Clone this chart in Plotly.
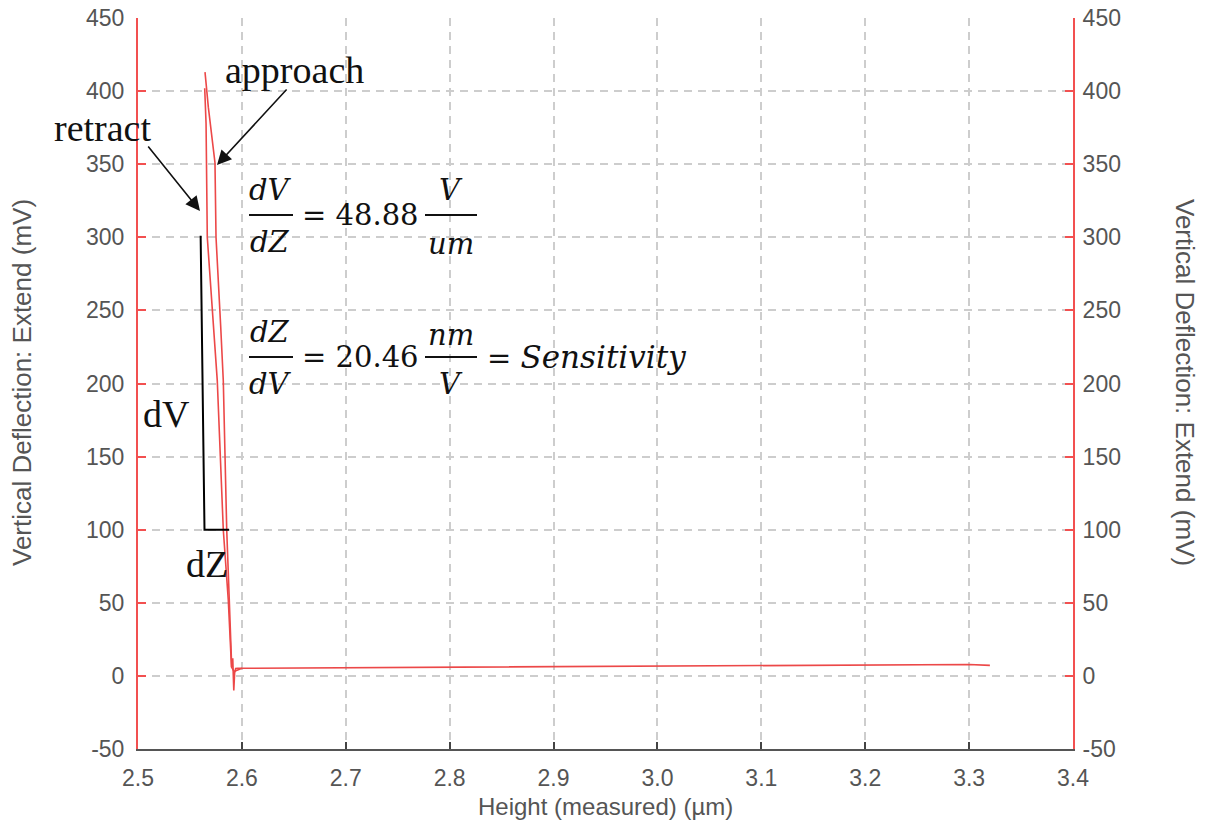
import plotly.graph_objects as go

# ---------------- data ----------------
approach_x = [2.5645, 2.5677, 2.5741, 2.5751, 2.5796, 2.5821, 2.5854, 2.5879, 2.5902,
              2.5912, 2.5922, 2.5930, 2.5940, 2.5960, 2.62, 2.65, 2.70, 2.75, 2.80,
              2.85, 2.90, 2.95, 3.00, 3.05, 3.10, 3.15, 3.20, 3.25, 3.30, 3.32]
approach_y = [413, 389, 351, 300, 239, 202, 100, 52, 6,
              12, -10, 2, 5, 5.2, 5.3, 5.5, 5.7, 5.9, 6.0,
              6.2, 6.4, 6.6, 6.8, 7.0, 7.2, 7.4, 7.6, 7.7, 7.8, 7.2]

retract_x = [2.5642, 2.5655, 2.5667, 2.5725, 2.5763, 2.5821, 2.5869, 2.5900, 2.5925, 2.6000]
retract_y = [402, 378, 300, 239, 202, 100, 52, 6, 3, 5.2]

slope_x = [2.5603, 2.5640, 2.5876]
slope_y = [301, 100, 100]

x_ticks = [2.5, 2.6, 2.7, 2.8, 2.9, 3.0, 3.1, 3.2, 3.3, 3.4]
x_tick_labels = ["2.5", "2.6", "2.7", "2.8", "2.9", "3.0", "3.1", "3.2", "3.3", "3.4"]
y_ticks = [-50, 0, 50, 100, 150, 200, 250, 300, 350, 400, 450]
y_tick_labels = ["-50", "0", "50", "100", "150", "200", "250", "300", "350", "400", "450"]

# ---------------- styling ----------------
RED = "rgb(236,72,72)"
AXRED = "rgb(242,80,80)"
GRID = "rgb(205,205,205)"
TICKC = "#555555"
SANS = "Liberation Sans, Arial, sans-serif"
SERIF = "Liberation Serif, Times New Roman, serif"
MATH = "DejaVu Serif, serif"

W, H = 1210, 827
# plot-area edges in screenshot pixels
L, R, T, B = 138, 1073, 18, 749


def px2x(px):
    return (px - L) / (R - L)


def py2y(py):
    return (B - py) / (B - T)


fig = go.Figure()
fig.add_trace(go.Scatter(x=retract_x, y=retract_y, mode="lines",
                         line=dict(color=RED, width=1.6), showlegend=False, hoverinfo="skip"))
fig.add_trace(go.Scatter(x=approach_x, y=approach_y, mode="lines",
                         line=dict(color=RED, width=1.6), showlegend=False, hoverinfo="skip"))
fig.add_trace(go.Scatter(x=slope_x, y=slope_y, mode="lines",
                         line=dict(color="black", width=2), showlegend=False, hoverinfo="skip"))
fig.add_trace(go.Scatter(x=[None], y=[None], yaxis="y2", showlegend=False, hoverinfo="skip"))

annotations = []
shapes = []


def txt(s, px, py, size, family=SERIF, color="#111111", xanchor="center", angle=0):
    annotations.append(dict(text=s, x=px2x(px), y=py2y(py), xref="paper", yref="paper",
                            xanchor=xanchor, yanchor="middle", showarrow=False,
                            textangle=angle, font=dict(size=size, family=family, color=color)))


def bar(x0, x1, py):
    shapes.append(dict(type="line", xref="paper", yref="paper",
                       x0=px2x(x0), x1=px2x(x1), y0=py2y(py), y1=py2y(py),
                       line=dict(color="#111111", width=2)))


def arrow(hx, hy, tx, ty):
    annotations.append(dict(text="", x=px2x(hx), y=py2y(hy), xref="paper", yref="paper",
                            ax=tx - hx, ay=ty - hy, showarrow=True, arrowhead=2,
                            arrowsize=1.8, arrowwidth=1.6, arrowcolor="#111111"))


# axis titles
txt("Vertical Deflection: Extend (mV)", 22, 383, 26, SANS, TICKC, angle=-90)
txt("Vertical Deflection: Extend (mV)", 1185, 382, 26, SANS, TICKC, angle=90)
txt("Height (measured) (µm)", 605, 806, 24, SANS, TICKC)

# labels
txt("retract", 102, 128, 38)
txt("approach", 294, 70, 38)
txt("dV", 166, 414, 38)
txt("dZ", 207, 564, 38)
arrow(217, 165, 288, 88)
arrow(200, 211, 147, 145)

# equation 1
txt("<i>dV</i>", 270, 190, 29, MATH)
bar(249, 293, 215)
txt("<i>dZ</i>", 270, 242, 29, MATH)
txt("= 48.88", 300, 215, 29, MATH, xanchor="left")
txt("<i>V</i>", 451, 190, 29, MATH)
bar(425, 477, 215)
txt("<i>um</i>", 451, 244, 29, MATH)

# equation 2
txt("<i>dZ</i>", 270, 332, 29, MATH)
bar(249, 293, 357)
txt("<i>dV</i>", 270, 384, 29, MATH)
txt("= 20.46", 300, 357, 29, MATH, xanchor="left")
txt("<i>nm</i>", 451, 335, 29, MATH)
bar(425, 477, 357)
txt("<i>V</i>", 451, 384, 29, MATH)
txt("= <i><span style='font-size:31px'>Sensitivity</span></i>", 485, 357, 29, MATH, xanchor="left")

grid = dict(showgrid=True, gridcolor=GRID, gridwidth=1.5, griddash="8px,6px")

fig.update_layout(
    width=W, height=H,
    margin=dict(l=L, r=W - R, t=T, b=H - B, autoexpand=False),
    paper_bgcolor="white", plot_bgcolor="white",
    xaxis=dict(range=[2.5, 3.4], tickvals=x_ticks, ticktext=x_tick_labels,
               showline=True, linecolor="#555555", linewidth=2,
               ticks="inside", ticklen=7, tickwidth=1.5, tickcolor="#444444",
               tickfont=dict(size=23, family=SANS, color=TICKC),
               zeroline=False, ticklabelstandoff=7, ticklabeloverflow="allow", **grid),
    yaxis=dict(range=[-50, 450], tickvals=y_ticks, ticktext=y_tick_labels,
               showline=True, linecolor=AXRED, linewidth=2,
               ticks="inside", ticklen=8, tickwidth=2, tickcolor=AXRED,
               tickfont=dict(size=23, family=SANS, color=TICKC),
               zeroline=False, ticklabelstandoff=7, ticklabeloverflow="allow", **grid),
    yaxis2=dict(range=[-50, 450], tickvals=y_ticks, ticktext=y_tick_labels,
                overlaying="y", side="right",
                showline=True, linecolor=AXRED, linewidth=2,
                ticks="inside", ticklen=8, tickwidth=2, tickcolor=AXRED,
                tickfont=dict(size=23, family=SANS, color=TICKC),
                zeroline=False, showgrid=False, ticklabelstandoff=3,
                ticklabeloverflow="allow"),
    annotations=annotations,
    shapes=shapes,
)

fig.write_html("out.html",
               config={"displayModeBar": False},
               post_script="document.body.style.margin='0px';"
                           "document.body.style.overflow='hidden';")
